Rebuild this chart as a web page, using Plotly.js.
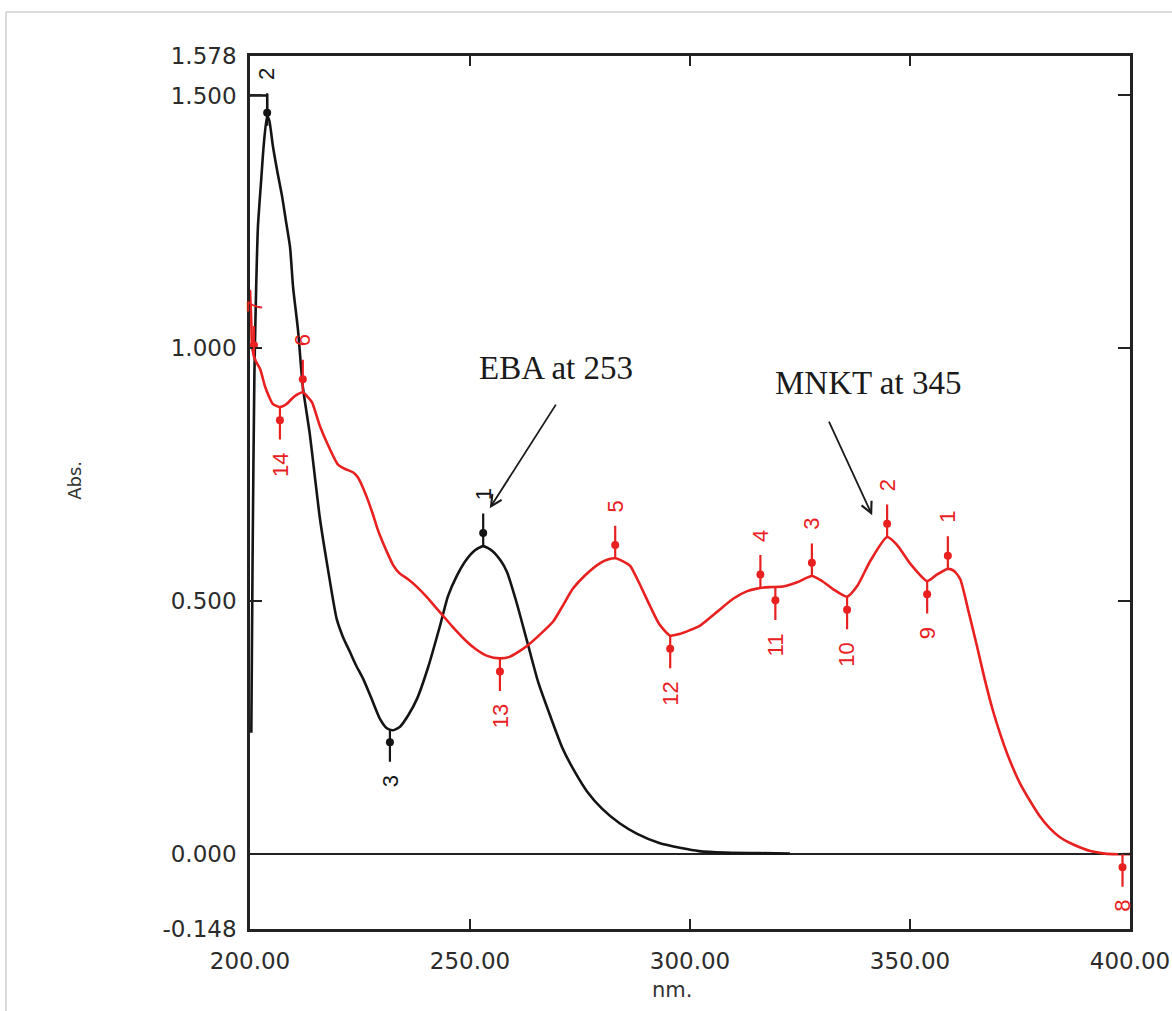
<!DOCTYPE html>
<html>
<head>
<meta charset="utf-8">
<script src="https://cdn.plot.ly/plotly-3.0.1.min.js"></script>
<style>html,body{margin:0;padding:0;background:#fff;}#chart{width:1172px;height:1011px;}</style>
</head>
<body>
<div id="chart"></div>
<script>
// ---- EBA (black) spectrum ----
var ebaX = [200.3, 200.6, 201.0, 201.4, 201.8, 202.6, 203.1, 203.9, 204.4, 205.2, 206.2, 207.3, 208.2, 209.1, 209.8, 210.9, 212.0, 213.6, 214.8, 215.9, 217.7, 219.7, 221.1, 222.7, 224.0, 225.7, 227.5, 229.5, 231.1, 232.5, 234.1, 236.0, 238.0, 240.5, 243.2, 245.0, 247.0, 249.0, 251.0, 253.0, 255.0, 257.0, 258.4, 260.5, 263.0, 265.5, 268.2, 271.0, 274.0, 276.6, 280.0, 284.0, 288.0, 293.0, 298.0, 302.0, 308.0, 316.0, 322.7];
var ebaY = [0.24, 0.60, 0.95, 1.12, 1.24, 1.34, 1.40, 1.46, 1.45, 1.40, 1.35, 1.30, 1.25, 1.20, 1.12, 1.037, 0.925, 0.83, 0.742, 0.663, 0.564, 0.465, 0.43, 0.40, 0.375, 0.347, 0.31, 0.268, 0.249, 0.245, 0.252, 0.275, 0.308, 0.37, 0.452, 0.51, 0.55, 0.58, 0.60, 0.609, 0.60, 0.58, 0.558, 0.50, 0.42, 0.34, 0.274, 0.21, 0.16, 0.124, 0.09, 0.061, 0.04, 0.022, 0.012, 0.006, 0.003, 0.002, 0.001];
// off-scale (clipped) segment of EBA at the top
var ebaClipX = [200.0, 203.9, 203.9];
var ebaClipY = [1.5, 1.5, 1.465];

// ---- MNKT (red) spectrum ----
var mnktX = [200.0, 200.3, 200.5, 201.3, 202.3, 203.4, 204.3, 205.2, 206.8, 208.3, 209.8, 211.0, 212.0, 213.0, 214.1, 215.9, 218.2, 220.0, 221.5, 223.4, 224.5, 225.5, 226.8, 228.0, 228.9, 230.0, 231.1, 232.5, 234.0, 236.0, 238.0, 240.0, 242.0, 243.9, 246.0, 249.3, 251.5, 253.9, 256.8, 259.0, 261.0, 263.0, 266.0, 268.9, 271.0, 273.4, 276.0, 279.5, 281.5, 283.0, 285.0, 286.4, 288.5, 290.9, 293.0, 295.5, 297.5, 300.0, 302.3, 306.0, 309.8, 313.0, 315.2, 318.0, 321.1, 324.5, 327.7, 330.0, 332.5, 335.7, 338.0, 341.0, 344.8, 347.0, 350.0, 353.9, 356.0, 358.6, 360.0, 361.4, 363.3, 365.2, 367.0, 368.9, 370.8, 372.7, 375.0, 377.3, 379.5, 381.8, 384.0, 386.4, 389.0, 391.0, 393.5, 396.0, 400.0];
var mnktY = [1.116, 1.05, 1.0, 0.975, 0.959, 0.925, 0.905, 0.89, 0.884, 0.89, 0.903, 0.91, 0.913, 0.905, 0.893, 0.846, 0.80, 0.77, 0.762, 0.755, 0.745, 0.728, 0.70, 0.67, 0.645, 0.62, 0.598, 0.572, 0.555, 0.543, 0.528, 0.51, 0.49, 0.471, 0.45, 0.42, 0.404, 0.392, 0.387, 0.39, 0.40, 0.412, 0.435, 0.46, 0.49, 0.525, 0.55, 0.575, 0.583, 0.585, 0.578, 0.570, 0.535, 0.491, 0.455, 0.432, 0.435, 0.443, 0.452, 0.478, 0.505, 0.52, 0.525, 0.528, 0.529, 0.538, 0.550, 0.54, 0.524, 0.509, 0.53, 0.58, 0.627, 0.612, 0.575, 0.540, 0.552, 0.564, 0.56, 0.544, 0.48, 0.412, 0.345, 0.282, 0.23, 0.185, 0.14, 0.105, 0.075, 0.051, 0.034, 0.022, 0.012, 0.006, 0.002, 0.0, 0.0];

// ---- picked peaks / valleys ----
var redPeakLabels = ['7', '6', '5', '4', '3', '2', '1'];
var redPeakX = [200.9, 212.0, 283.0, 316.0, 327.7, 344.8, 358.6];
var redPeakY = [0.98, 0.913, 0.585, 0.527, 0.550, 0.627, 0.564];
var redValleyLabels = ['14', '13', '12', '11', '10', '9', '8'];
var redValleyX = [206.8, 256.8, 295.5, 319.4, 335.7, 353.9, 398.3];
var redValleyY = [0.884, 0.387, 0.432, 0.528, 0.509, 0.540, 0.0];
var blackPeakLabels = ['2', '1'];
var blackPeakX = [203.9, 253.0];
var blackPeakY = [1.44, 0.609];
var blackValleyLabels = ['3'];
var blackValleyX = [231.8];
var blackValleyY = [0.247];

// ---- axis ticks ----
var xTickVals = [200, 250, 300, 350, 400];
var xTickText = ['200.00', '250.00', '300.00', '350.00', '400.00'];
var yTickVals = [-0.148, 0, 0.5, 1.0, 1.5, 1.578];
var yTickText = ['-0.148', '0.000', '0.500', '1.000', '1.500', '1.578'];

var RED = '#e8201f';
var BLACK = '#141414';
var DOT_OFF = 0.026;

function dots(xs, ys, sign) {
  return {x: xs, y: ys.map(function (v) { return v + sign * DOT_OFF; })};
}
var rpd = dots(redPeakX, redPeakY, 1), rvd = dots(redValleyX, redValleyY, -1);
var bpd = dots(blackPeakX, blackPeakY, 1), bvd = dots(blackValleyX, blackValleyY, -1);

var traces = [
  {x: ebaClipX, y: ebaClipY, mode: 'lines', line: {color: BLACK, width: 2.4}, showlegend: false, hoverinfo: 'skip'},
  {x: ebaX, y: ebaY, mode: 'lines', line: {color: BLACK, width: 2.6, shape: 'spline', smoothing: 0.6}, name: 'EBA', showlegend: false},
  {x: mnktX, y: mnktY, mode: 'lines', line: {color: RED, width: 2.6, shape: 'spline', smoothing: 0.6}, name: 'MNKT', showlegend: false},
  {x: rpd.x.concat(rvd.x), y: rpd.y.concat(rvd.y), mode: 'markers', marker: {color: RED, size: 8}, showlegend: false, cliponaxis: false},
  {x: bpd.x.concat(bvd.x), y: bpd.y.concat(bvd.y), mode: 'markers', marker: {color: BLACK, size: 8}, showlegend: false, cliponaxis: false}
];

var annotations = [];
function addMarks(labels, xs, ys, sign, color) {
  for (var i = 0; i < labels.length; i++) {
    var half = 6 * labels[i].length;
    annotations.push({
      x: xs[i], y: ys[i], xref: 'x', yref: 'y',
      text: labels[i], textangle: -90,
      font: {family: 'Liberation Sans, Arial, sans-serif', size: 22, color: color},
      showarrow: true, arrowhead: 0, arrowwidth: 2.2, arrowcolor: color,
      ax: 0, ay: -sign * (34 + 12 + half), startstandoff: 12, standoff: 0
    });
  }
}
addMarks(redPeakLabels, redPeakX, redPeakY, 1, RED);
addMarks(redValleyLabels, redValleyX, redValleyY, -1, RED);
addMarks(blackPeakLabels, blackPeakX, blackPeakY, 1, BLACK);
addMarks(blackValleyLabels, blackValleyX, blackValleyY, -1, BLACK);

var serif = 'Liberation Serif, Times New Roman, serif';
annotations.push(
  {x: 269.5, y: 0.962, xref: 'x', yref: 'y', text: 'EBA at 253', showarrow: false,
   font: {family: serif, size: 33, color: '#1a1a1a'}},
  {x: 254.5, y: 0.684, xref: 'x', yref: 'y', ax: 270.2, ay: 0.898, axref: 'x', ayref: 'y',
   text: ' ', showarrow: true, arrowhead: 5, arrowsize: 1.2, arrowwidth: 1.8, arrowcolor: '#1a1a1a'},
  {x: 340.5, y: 0.931, xref: 'x', yref: 'y', text: 'MNKT at 345', showarrow: false,
   font: {family: serif, size: 33, color: '#1a1a1a'}},
  {x: 341.4, y: 0.670, xref: 'x', yref: 'y', ax: 330.9, ay: 0.868, axref: 'x', ayref: 'y',
   text: ' ', showarrow: true, arrowhead: 5, arrowsize: 1.2, arrowwidth: 1.8, arrowcolor: '#1a1a1a'},
  {x: -0.2136, y: 0.514, xref: 'paper', yref: 'paper', text: 'Abs.', textangle: -90, showarrow: false,
   font: {family: 'DejaVu Sans, sans-serif', size: 18, color: '#333'}},
  {x: 0.4795, y: -0.086, xref: 'paper', yref: 'paper', text: 'nm.', showarrow: false,
   font: {family: 'DejaVu Sans, sans-serif', size: 21, color: '#333'}}
);

var tickFont = {family: 'DejaVu Sans, sans-serif', size: 23, color: '#2b2b2b'};
var layout = {
  width: 1172, height: 1011,
  margin: {l: 250, r: 42, t: 56, b: 82},
  paper_bgcolor: '#fff', plot_bgcolor: '#fff',
  showlegend: false,
  xaxis: {
    range: [200, 400], tickmode: 'array', tickvals: xTickVals, ticktext: xTickText,
    ticks: 'inside', ticklen: 10, tickwidth: 2, tickcolor: '#222',
    showline: true, linewidth: 2.8, linecolor: '#222', mirror: 'ticks',
    showgrid: false, zeroline: false, tickfont: tickFont, ticklabelstandoff: 10
  },
  yaxis: {
    range: [-0.148, 1.578], tickmode: 'array', tickvals: yTickVals, ticktext: yTickText,
    ticks: 'inside', ticklen: 12, tickwidth: 2, tickcolor: '#222',
    showline: true, linewidth: 2.8, linecolor: '#222', mirror: 'ticks',
    showgrid: false, zeroline: true, zerolinecolor: '#222', zerolinewidth: 2.2,
    tickfont: tickFont, ticklabelstandoff: 6
  },
  annotations: annotations,
  shapes: [
    {type: 'line', xref: 'paper', yref: 'paper', x0: -0.2773, x1: 1.06, y0: 1.0504, y1: 1.0504, line: {color: '#cfcfcf', width: 1.5}},
    {type: 'line', xref: 'paper', yref: 'paper', x0: -0.2773, x1: -0.2773, y0: 1.0504, y1: -0.1, line: {color: '#cfcfcf', width: 1.5}}
  ]
};

Plotly.newPlot('chart', traces, layout, {displayModeBar: false, staticPlot: true});
</script>
</body>
</html>
